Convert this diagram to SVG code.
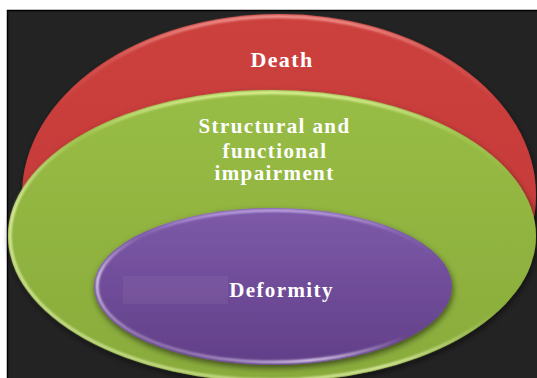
<svg xmlns="http://www.w3.org/2000/svg" width="537" height="378" viewBox="0 0 537 378">
  <defs>
    <linearGradient id="gRed" x1="0" y1="0" x2="0" y2="1">
      <stop offset="0" stop-color="#cc403d"/>
      <stop offset="1" stop-color="#c23936"/>
    </linearGradient>
    <linearGradient id="gGreen" x1="0" y1="0" x2="0" y2="1">
      <stop offset="0" stop-color="#98bd45"/>
      <stop offset="1" stop-color="#89ab3b"/>
    </linearGradient>
    <linearGradient id="gPurple" x1="0" y1="0" x2="0" y2="1">
      <stop offset="0" stop-color="#7d5aa9"/>
      <stop offset="1" stop-color="#623f88"/>
    </linearGradient>
    <linearGradient id="rimRedTop" x1="0" y1="0" x2="0" y2="1">
      <stop offset="0" stop-color="#f29a94" stop-opacity="1"/>
      <stop offset="0.12" stop-color="#f29a94" stop-opacity="0.25"/>
      <stop offset="0.25" stop-color="#f29a94" stop-opacity="0"/>
    </linearGradient>
    <linearGradient id="rimGreenTop" x1="0" y1="0" x2="0" y2="1">
      <stop offset="0" stop-color="#dff59a" stop-opacity="1"/>
      <stop offset="0.15" stop-color="#dff59a" stop-opacity="0.2"/>
      <stop offset="0.3" stop-color="#dff59a" stop-opacity="0"/>
    </linearGradient>
    <linearGradient id="rimGreenBot" x1="0.9" y1="0.1" x2="0.2" y2="1">
      <stop offset="0.45" stop-color="#f2ffc0" stop-opacity="0"/>
      <stop offset="0.7" stop-color="#f2ffc0" stop-opacity="0.9"/>
      <stop offset="1" stop-color="#f2ffc0" stop-opacity="0.6"/>
    </linearGradient>
    <linearGradient id="rimPurpleTop" x1="0" y1="0" x2="0" y2="1">
      <stop offset="0" stop-color="#c6aeea" stop-opacity="1"/>
      <stop offset="0.15" stop-color="#c6aeea" stop-opacity="0.2"/>
      <stop offset="0.3" stop-color="#c6aeea" stop-opacity="0"/>
    </linearGradient>
    <linearGradient id="rimPurpleBot" x1="0.85" y1="0.1" x2="0.15" y2="0.9">
      <stop offset="0.5" stop-color="#f0e6ff" stop-opacity="0"/>
      <stop offset="0.78" stop-color="#f0e6ff" stop-opacity="1"/>
      <stop offset="1" stop-color="#f0e6ff" stop-opacity="0.3"/>
    </linearGradient>
    <filter id="soft" x="-5%" y="-5%" width="110%" height="110%">
      <feGaussianBlur stdDeviation="0.8"/>
    </filter>
    <filter id="shadow" x="-10%" y="-10%" width="120%" height="125%">
      <feGaussianBlur in="SourceAlpha" stdDeviation="3"/>
      <feOffset dx="1" dy="3" result="b"/>
      <feFlood flood-color="#000" flood-opacity="0.55"/>
      <feComposite in2="b" operator="in"/>
      <feMerge><feMergeNode/><feMergeNode in="SourceGraphic"/></feMerge>
    </filter>
  </defs>
  <style>
    .lbl { font-family: "Liberation Serif", "Times New Roman", serif; font-weight: bold; fill: #ffffff; font-size: 21px; letter-spacing: 1.4px; text-anchor: middle; }
    .rim { fill: none; filter: url(#soft); }
  </style>

  <rect x="0" y="0" width="537" height="378" fill="#ffffff"/>
  <rect x="7.5" y="10.5" width="535" height="373" fill="#232323" stroke="#000000" stroke-width="1.5"/>

  <g id="node-death">
    <ellipse cx="279" cy="195" rx="257" ry="181" fill="url(#gRed)" filter="url(#shadow)"/>
    <ellipse cx="279" cy="195" rx="254.5" ry="178.5" class="rim" stroke="url(#rimRedTop)" stroke-width="3"/>
    <text class="lbl" x="282" y="67" style="font-size:22px">Death</text>
  </g>

  <g id="node-impairment">
    <ellipse cx="272" cy="236" rx="264" ry="146" fill="url(#gGreen)" filter="url(#shadow)"/>
    <ellipse cx="272" cy="236" rx="261.5" ry="143.5" class="rim" stroke="url(#rimGreenTop)" stroke-width="3"/>
    <ellipse cx="272" cy="236" rx="262" ry="144" class="rim" stroke="url(#rimGreenBot)" stroke-width="2.5"/>
    <text class="lbl" x="274.5" y="133">Structural and</text>
    <text class="lbl" x="275" y="158">functional</text>
    <text class="lbl" x="274.5" y="180">impairment</text>
  </g>

  <g id="node-deformity">
    <ellipse cx="273" cy="286.5" rx="179" ry="78.5" fill="url(#gPurple)" filter="url(#shadow)"/>
    <rect x="123" y="276" width="105" height="28" fill="#ffffff" opacity="0.05"/>
    <ellipse cx="273" cy="286.5" rx="176.5" ry="76" class="rim" stroke="url(#rimPurpleTop)" stroke-width="2.5"/>
    <ellipse cx="273" cy="286.5" rx="176" ry="75.5" class="rim" stroke="url(#rimPurpleBot)" stroke-width="2.5"/>
    <text class="lbl" x="281.5" y="297">Deformity</text>
  </g>

  <g id="connectors"/>
</svg>
